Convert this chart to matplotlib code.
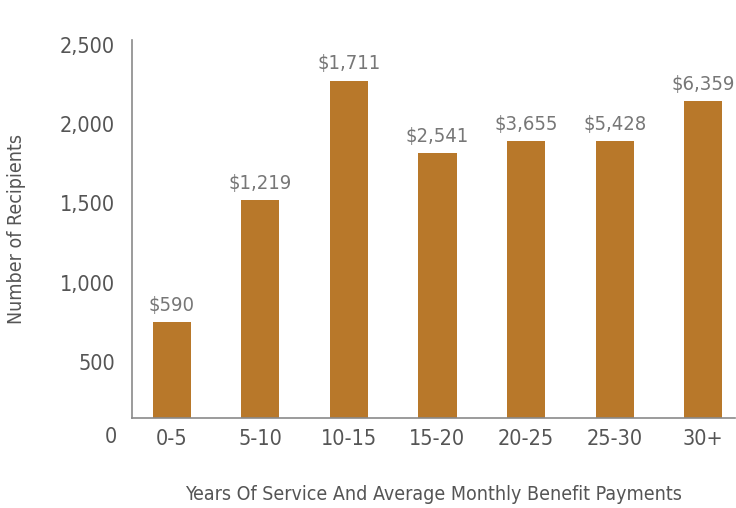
import matplotlib.pyplot as plt
from matplotlib import font_manager

# data
categories = ["0-5", "5-10", "10-15", "15-20", "20-25", "25-30", "30+"]
recipients = [750, 1520, 2275, 1820, 1895, 1895, 2145]
avg_benefit = ["$590", "$1,219", "$1,711", "$2,541", "$3,655", "$5,428", "$6,359"]
y_ticks = [500, 1000, 1500, 2000, 2500]

names = {f.name for f in font_manager.fontManager.ttflist}
narrow = "Liberation Sans Narrow" if "Liberation Sans Narrow" in names else "DejaVu Sans"
plt.rcParams['font.family'] = [narrow, 'DejaVu Sans']
plt.rcParams['font.stretch'] = 'condensed'

bar_color = "#b8782a"
text_gray = "#555555"
label_gray = "#777777"

fig = plt.figure(figsize=(7.36, 5.08), dpi=100)
ax = fig.add_axes([0.179, 0.177, 0.820, 0.744])

x = list(range(len(categories)))
bars = ax.bar(x, recipients, width=0.43, color=bar_color, zorder=2)

for xi, val, lab in zip(x, recipients, avg_benefit):
    ax.text(xi, val + 45, lab, ha="center", va="bottom", fontsize=14.5,
            color=label_gray, stretch="condensed")

ax.set_xlim(-0.45, 6.36)
ax.set_ylim(145, 2530)
ax.set_yticks(y_ticks)
ax.set_yticklabels([f"{v:,}" for v in y_ticks])
ax.set_xticks(x)
ax.set_xticklabels(categories)
ax.tick_params(axis="both", length=0, labelsize=15.5, colors=text_gray)
ax.tick_params(axis="x", pad=8)
ax.tick_params(axis="y", pad=12)

# zero label sits on the category row
ax.text(-0.025, -0.05, "0", transform=ax.transAxes, ha="right", va="center",
        fontsize=15.5, color=text_gray)

for side in ["top", "right"]:
    ax.spines[side].set_visible(False)
for side in ["left", "bottom"]:
    ax.spines[side].set_color("#8a8a8a")
    ax.spines[side].set_linewidth(1.2)

ax.set_ylabel("Number of Recipients", fontsize=14, color=text_gray)
ax.yaxis.set_label_coords(-0.175, 0.5)
ax.set_xlabel("Years Of Service And Average Monthly Benefit Payments",
              fontsize=14, color=text_gray, labelpad=26)

fig.savefig("out.png", dpi=100)
